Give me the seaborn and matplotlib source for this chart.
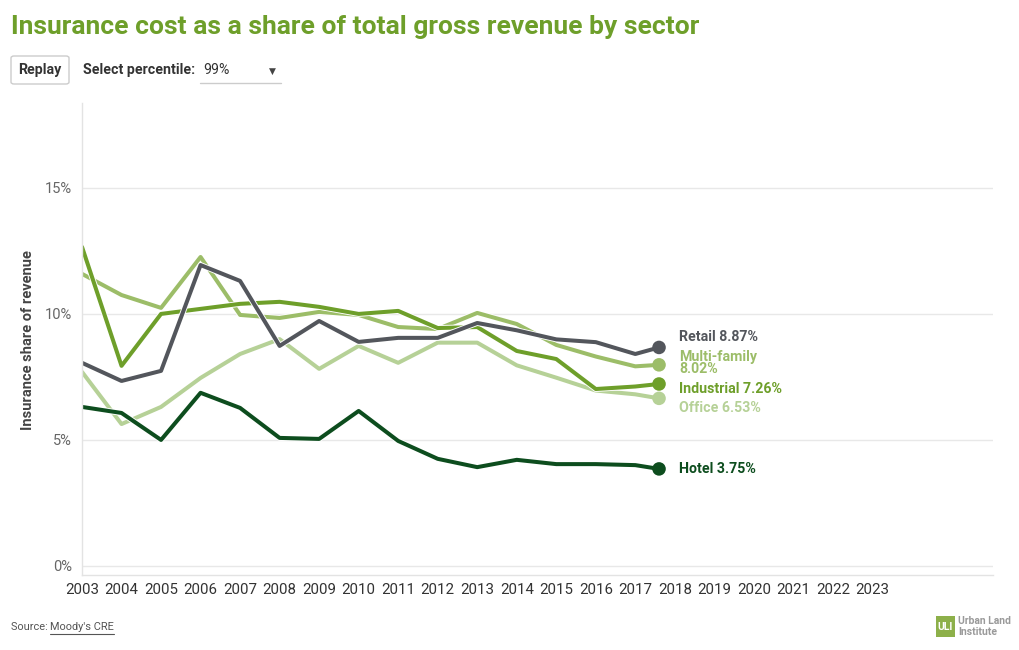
import matplotlib
matplotlib.use("Agg")
import matplotlib.pyplot as plt
import matplotlib.patheffects as pe
from matplotlib.patches import FancyBboxPatch, Rectangle
from matplotlib.lines import Line2D
import numpy as np
import pandas as pd
import seaborn as sns

# ---------------- data ----------------
years = [2003, 2004, 2005, 2006, 2007, 2008, 2009, 2010, 2011, 2012,
         2013, 2014, 2015, 2016, 2017, 2017.6]
retail = [8.06, 7.34, 7.74, 11.94, 11.31, 8.73, 9.72, 8.89, 9.05, 9.05,
          9.64, 9.35, 8.99, 8.88, 8.41, 8.67]
multi_family = [11.59, 10.75, 10.24, 12.26, 9.96, 9.84, 10.08, 9.96, 9.48, 9.40,
                10.04, 9.60, 8.77, 8.31, 7.92, 7.98]
industrial = [12.66, 7.94, 10.00, 10.20, 10.40, 10.48, 10.28, 10.00, 10.12, 9.44,
              9.48, 8.53, 8.21, 7.02, 7.12, 7.22]
office = [7.70, 5.63, 6.31, 7.46, 8.41, 9.00, 7.82, 8.73, 8.06, 8.86,
          8.86, 7.96, 7.47, 6.96, 6.81, 6.65]
hotel = [6.31, 6.07, 5.00, 6.87, 6.27, 5.08, 5.04, 6.15, 4.96, 4.25,
         3.92, 4.21, 4.04, 4.04, 4.00, 3.85]

sectors = ["Retail", "Multi-family", "Industrial", "Office", "Hotel"]
label_texts = ["Retail 8.87%", "Multi-family\n8.02%", "Industrial 7.26%",
               "Office 6.53%", "Hotel 3.75%"]
x_tick_years = list(range(2003, 2024))
y_ticks = [0, 5, 10, 15]
y_tick_labels = ["0%", "5%", "10%", "15%"]

# ---------------- style ----------------
colors = {"Retail": "#53565c", "Multi-family": "#9cbd68", "Industrial": "#6e9f2a",
          "Office": "#b6d197", "Hotel": "#0d4d1e"}
draw_order = ["Office", "Multi-family", "Industrial", "Retail", "Hotel"]
label_offsets_px = {"Retail": -10, "Multi-family": -2, "Industrial": 5,
                    "Office": 10, "Hotel": 0}

series = {"Retail": retail, "Multi-family": multi_family, "Industrial": industrial,
          "Office": office, "Hotel": hotel}
rows = []
for s in draw_order:
    for yr, v in zip(years, series[s]):
        rows.append({"year": yr, "share": v, "sector": s})
df = pd.DataFrame(rows)

sns.set_theme(style="white")
REG = ["Roboto", "DejaVu Sans"]
plt.rcParams["font.family"] = REG

W, H = 1020, 650
fig = plt.figure(figsize=(W / 100, H / 100), dpi=100)
fig.patch.set_facecolor("white")


def fx(x):
    return x / W


def fy(y):
    return 1 - y / H


ax = fig.add_axes([fx(82), fy(575), fx(993) - fx(82), fy(103) - fy(575)])
ax.set_facecolor("white")

sns.lineplot(data=df, x="year", y="share", hue="sector", hue_order=draw_order,
             palette=colors, linewidth=2.9, legend=False, ax=ax, sort=False,
             estimator=None)
for line in ax.lines:
    line.set_solid_capstyle("round")
    line.set_solid_joinstyle("round")
    line.set_path_effects([pe.Stroke(linewidth=4.2, foreground="white"), pe.Normal()])

ends = df[df["year"] == years[-1]]
sns.scatterplot(data=ends, x="year", y="share", hue="sector", hue_order=draw_order,
                palette=colors, s=95, linewidth=0, legend=False, ax=ax, zorder=5)

for s, txt in zip(sectors, label_texts):
    v = series[s][-1]
    ax.annotate(txt, xy=(years[-1], v), xytext=(14.5, -label_offsets_px[s] * 0.72),
                textcoords="offset points", ha="left", va="center",
                fontsize=10.2, fontweight="bold", color=colors[s],
                family=REG, linespacing=0.85)

ax.set_xlim(2003, 2026.05)
ax.set_ylim(-0.36, 18.37)
ax.set_xticks(x_tick_years)
ax.set_xticklabels([str(y) for y in x_tick_years], fontsize=10.8, color="#333333")
ax.set_yticks(y_ticks)
ax.set_yticklabels(y_tick_labels, fontsize=10.5, color="#666666")
ax.tick_params(axis="x", length=0, pad=6)
ax.tick_params(axis="y", length=0, pad=7)
ax.grid(axis="y", color="#e8e8e8", linewidth=1)
ax.grid(axis="x", visible=False)
for side in ["top", "right"]:
    ax.spines[side].set_visible(False)
for side in ["left", "bottom"]:
    ax.spines[side].set_color("#e3e3e3")
    ax.spines[side].set_linewidth(1)
ax.set_xlabel("")
ax.set_ylabel("Insurance share of revenue", fontsize=10.5, fontweight="bold",
              color="#444444", family=REG)
ax.yaxis.set_label_coords((fx(35) - fx(82)) / (fx(993) - fx(82)),
                          (fy(340) - fy(575)) / (fy(103) - fy(575)))

# ---------------- header ----------------
fig.text(fx(11), fy(27), "Insurance cost as a share of total gross revenue by sector",
         ha="left", va="center", fontsize=19, fontweight="bold", color="#6e9f2a")

btn = FancyBboxPatch((fx(11), fy(84)), fx(69) - fx(11), fy(56) - fy(84),
                     boxstyle="round,pad=0,rounding_size=0.003", transform=fig.transFigure,
                     facecolor="white", edgecolor="#cccccc", linewidth=1)
fig.patches.append(btn)
fig.text(fx(40), fy(70), "Replay", ha="center", va="center", fontsize=10.2,
         fontweight="bold", color="#333333")
fig.text(fx(83), fy(70), "Select percentile:", ha="left", va="center", fontsize=10.2,
         fontweight="bold", color="#333333")
fig.text(fx(203), fy(70), "99%", ha="left", va="center", fontsize=10.2,
         color="#333333")
fig.text(fx(272), fy(71), "\u25BC", ha="center", va="center", fontsize=6.5,
         color="#444444", family=["DejaVu Sans"])
fig.lines.append(Line2D([fx(200), fx(281)], [fy(83), fy(83)], transform=fig.transFigure,
                        color="#cccccc", linewidth=1))

# ---------------- footer ----------------
t1 = fig.text(fx(11), fy(627), "Source: ", ha="left", va="center", fontsize=7.9,
              color="#555555")
fig.canvas.draw()
r = fig.canvas.get_renderer()
bb = t1.get_window_extent(r)
t2 = fig.text(bb.x1 / W, fy(627), "Moody's CRE", ha="left", va="center", fontsize=7.9,
              color="#555555")
bb2 = t2.get_window_extent(r)
fig.lines.append(Line2D([bb2.x0 / W, bb2.x1 / W], [fy(633.5), fy(633.5)],
                        transform=fig.transFigure, color="#555555", linewidth=0.8))

logo = Rectangle((fx(936), fy(637)), fx(955) - fx(936), fy(616) - fy(637),
                 transform=fig.transFigure, facecolor="#8db04a", edgecolor="none")
fig.patches.append(logo)
fig.text(fx(945.5), fy(627), "ULI", ha="center", va="center", fontsize=7.5,
         fontweight="bold", color="white")
fig.text(fx(958), fy(621), "Urban Land", ha="left", va="center", fontsize=7.5,
         fontweight="bold", color="#9a9a9a")
fig.text(fx(958), fy(632), "Institute", ha="left", va="center", fontsize=7.5,
         fontweight="bold", color="#9a9a9a")

fig.savefig("out.png", dpi=100, facecolor="white")
